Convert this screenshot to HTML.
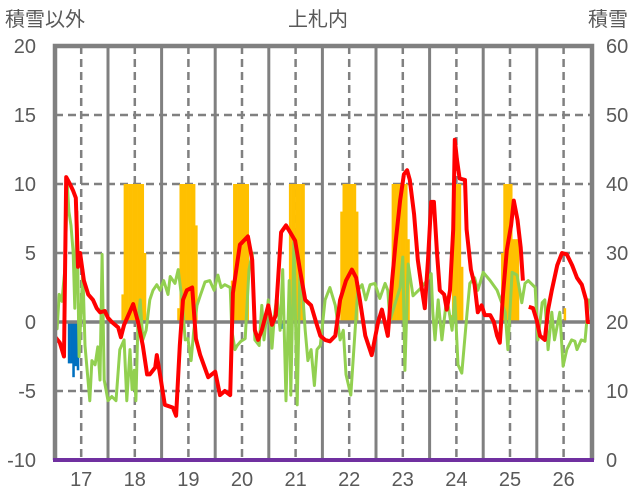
<!DOCTYPE html>
<html><head><meta charset="utf-8"><style>
html,body{margin:0;padding:0;background:#fff;}
svg{display:block;font-family:"Liberation Sans","Noto Sans CJK JP",sans-serif;}
</style></head><body>
<svg id="chart" width="636" height="501" viewBox="0 0 636 501" xmlns="http://www.w3.org/2000/svg">
<g id="grid"></g>
<g id="bars"></g>
<g id="lines"></g>
<g id="frame"></g>
<g id="labels" fill="#595959" font-size="20"></g>
<text x="5" y="26" font-size="20" fill="#595959">積雪以外</text>
<text x="318" y="26" font-size="20" fill="#595959" text-anchor="middle">上札内</text>
<text x="588" y="26" font-size="20" fill="#595959">積雪</text>
</svg>
<script>
const years = [17,18,19,20,21,22,23,24,25,26];
const leftTicks = [20,15,10,5,0,-5,-10];
const rightTicks = [60,50,40,30,20,10,0];
const redT = [17.0,17.10,17.18,17.22,17.29,17.35,17.40,17.44,17.48,17.55,17.63,17.72,17.79,17.85,17.94,18.0,18.07,18.19,18.24,18.30,18.37,18.47,18.56,18.65,18.73,18.78,18.88,18.91,18.97,19.06,19.21,19.27,19.34,19.40,19.47,19.57,19.64,19.72,19.87,20.0,20.09,20.18,20.28,20.33,20.46,20.61,20.69,20.74,20.80,20.87,20.99,21.06,21.13,21.23,21.32,21.40,21.49,21.58,21.68,21.79,21.88,21.96,22.05,22.14,22.24,22.33,22.44,22.55,22.63,22.70,22.80,22.92,23.04,23.11,23.22,23.30,23.37,23.45,23.52,23.58,23.63,23.71,23.78,23.86,23.91,23.97,24.03,24.08,24.14,24.19,24.27,24.32,24.38,24.44,24.47,24.51,24.56,24.66,24.69,24.77,24.84,24.90,24.97,25.03,25.13,25.20,25.26,25.31,25.37,25.44,25.52,25.57,25.64,25.70,25.74,25.80,25.85,25.93,26.0,26.06,26.15,26.21,26.28,26.38,26.47,26.56,26.66,26.75,26.84,26.92,26.95,27.0];
const redV = [-1,-1.5,-2.5,10.5,10,9.5,9,4,5,3,2,1.6,1,0.7,0.8,0.3,0,-0.4,-1.1,-0.2,0.4,1.3,0,-1.7,-3.8,-3.8,-3.3,-2.4,-3.8,-6,-6.2,-6.8,-1.7,1.6,2.3,2.5,-1.2,-2.4,-4,-3.6,-5.3,-5,-5.3,2.1,5.6,6.2,4.5,-0.6,-1.3,-0.6,1.2,-0.2,0.5,6.5,7,6.5,5.9,3.8,1.6,1.2,0,-1,-1.3,-1.4,-1,1.6,3,3.8,3.2,1.6,-1,-2.4,0,0.9,-1,3,5.9,8.8,10.7,11,10.3,7.8,4.5,2.3,1,4.5,8.7,8.7,4.9,2.3,2,0.9,2.3,6.7,13.2,11.8,10.4,10.3,6.7,3.8,2.7,0.7,1.2,0.5,0.5,0,-1,-1.5,2,5.2,7,8.8,7.4,5.4,3,null,1.1,1,0.1,-1,-1.3,0.9,2.3,4.1,5,4.9,4.1,3.2,2.7,1.6,0,0];
const greenT = [17.0,17.05,17.09,17.14,17.20,17.24,17.27,17.31,17.35,17.38,17.42,17.46,17.53,17.57,17.66,17.70,17.76,17.81,17.85,17.89,17.93,18.0,18.07,18.15,18.22,18.30,18.35,18.41,18.45,18.49,18.52,18.56,18.60,18.65,18.71,18.78,18.84,18.91,18.97,19.04,19.12,19.16,19.25,19.31,19.38,19.44,19.49,19.55,19.60,19.66,19.72,19.81,19.90,19.98,20.05,20.11,20.18,20.28,20.31,20.37,20.41,20.48,20.56,20.63,20.69,20.74,20.82,20.87,20.91,20.99,21.06,21.10,21.15,21.21,21.26,21.32,21.38,21.41,21.47,21.53,21.58,21.64,21.68,21.73,21.79,21.85,21.90,21.96,22.05,22.14,22.24,22.33,22.39,22.44,22.53,22.61,22.66,22.74,22.81,22.89,22.98,23.07,23.17,23.22,23.26,23.45,23.50,23.54,23.60,23.69,23.82,23.95,24.03,24.06,24.10,24.16,24.23,24.32,24.42,24.47,24.53,24.60,24.70,24.75,24.84,24.90,25.0,25.13,25.26,25.41,25.46,25.54,25.63,25.72,25.78,25.84,25.97,26.02,26.10,26.15,26.21,26.28,26.33,26.43,26.49,26.56,26.65,26.71,26.75,26.83,26.90,26.97];
const greenV = [1.6,-0.5,2,1.5,4,10,8,7,5,1,8,-2.5,3.8,-1.7,-5.7,-2.8,-3.1,-1.8,-4.2,4.9,-4.2,-5.7,-5.4,-5.7,-2,-1.3,-5.7,-2,-4.9,-3.5,-5.7,0.1,1.6,-1.3,-0.6,1.6,2.3,2.7,2.3,3,2,3.3,2.8,3.8,1.6,-1.3,-1.2,-2.8,-0.6,1.2,1.9,2.9,3,2.3,3.4,2.5,2.7,2.5,-0.6,-2,-1.7,-1.4,-1.2,3.8,5,-1.3,-1.7,1.2,-1.3,1.6,-1.9,0.3,1.9,-0.6,3.8,-5.7,3,-5.3,5.9,-6,3.8,1.6,-0.6,-2.8,-2,-4.6,-2,-1.7,1.6,2.5,1.2,-1.3,-0.6,-3.8,-5.3,-0.6,2.3,2.7,1.6,2.7,2.8,1.7,2.8,2.3,0.1,2.5,4.7,-3.5,4.2,1.9,2.4,3,3.5,0.7,-1.3,1.6,-1.3,1.8,-0.6,1.8,-3.1,-3.7,0.7,2.8,3.2,2.3,3.6,3,2.3,0.7,-2,3.6,3.4,1.4,2.8,3,2.5,-1.3,1.4,1.6,-2,0.7,-1.3,0.7,-3.2,-2,-1.3,-1.4,-2,-1.3,-1.4,1.7];
const snowIdx = [30,31,32,33,34,35,36,37,38,39,40,55,56,57,58,59,60,61,62,63,79,80,81,82,83,84,85,86,105,106,107,108,109,110,111,128,129,130,131,132,133,134,135,151,152,153,154,155,156,157,158,177,178,179,180,181,182,200,201,202,203,204,205,206,207,228];
const snowV = [24,40,40,40,40,40,40,40,40,40,30,22,40,40,40,40,40,40,40,34,26,40,40,40,40,40,40,40,40,40,40,40,40,40,40,36,40,40,40,40,40,40,36,40,40,40,40,40,40,40,32,21,40,40,40,40,28,30,40,40,40,40,32,32,32,22];
const blueIdx = [6,7,8,9,10,101];
const blueV = [-3,-3,-4,-3.2,-3.5,-0.5];

const NS = "http://www.w3.org/2000/svg";
const X = t => 54.4 + (t - 17) * 53.6;
const Y = v => 322 - v * 13.8;
const R = v => 460 - v * 6.9;
const IDX = i => 17 + i / 24;
const HW = 53.6 / 24;
function mk(tag, parent, attrs) {
  const e = document.createElementNS(NS, tag);
  for (const k in attrs) e.setAttribute(k, attrs[k]);
  parent.appendChild(e);
  return e;
}
const grid = document.getElementById('grid');
const bars = document.getElementById('bars');
const lines = document.getElementById('lines');
const frame = document.getElementById('frame');
const labels = document.getElementById('labels');

leftTicks.forEach(v => {
  if (v === 20 || v === 0 || v === -10) return;
  const l = mk('line', grid, {x1: 55, x2: 592, y1: Y(v), y2: Y(v), stroke: '#808080', 'stroke-width': 2.5, 'stroke-dasharray': '8 5'});
  
  
});
years.forEach(y => {
  const d = mk('line', grid, {x1: X(y + 0.5), x2: X(y + 0.5), y1: 46, y2: 460, stroke: '#808080', 'stroke-width': 2.5, 'stroke-dasharray': '8 5'});
  
  
  if (y > 17) {
    const s = mk('line', grid, {x1: X(y), x2: X(y), y1: 46, y2: 460, stroke: '#808080', 'stroke-width': 3});
    
    
  }
});
snowIdx.forEach((i, k) => {
  const v = snowV[k];
  const r = mk('rect', bars, {x: X(IDX(i)), y: R(v), width: HW + 0.3, height: R(20) - R(v), fill: '#FFC000'});
  
  
});
blueIdx.forEach((i, k) => {
  const v = blueV[k];
  const r = mk('rect', bars, {x: X(IDX(i)), y: Y(0), width: HW + 0.3, height: Y(v) - Y(0), fill: '#0070C0'});
  
  
});
const z = mk('line', lines, {x1: 55, x2: 592, y1: Y(0), y2: Y(0), stroke: '#808080', 'stroke-width': 3.5});


function pathOf(T, V) {
  let d = '', pen = false;
  T.forEach((t, i) => {
    const v = V[i];
    if (v === null) { pen = false; return; }
    d += (pen ? 'L' : 'M') + X(t).toFixed(1) + ' ' + Y(v).toFixed(1) + ' ';
    pen = true;
  });
  return d;
}
const g = mk('path', lines, {d: pathOf(greenT, greenV), fill: 'none', stroke: '#92D050', 'stroke-width': 3, 'stroke-linejoin': 'round'});


const rd = mk('path', lines, {d: pathOf(redT, redV), fill: 'none', stroke: '#FF0000', 'stroke-width': 4, 'stroke-linejoin': 'round'});



const fr = mk('path', frame, {d: 'M55 460 L55 46 L592 46 L592 460', fill: 'none', stroke: '#808080', 'stroke-width': 4.5});


const bt = mk('line', frame, {x1: 53, x2: 594, y1: 460, y2: 460, stroke: '#7030A0', 'stroke-width': 4});



leftTicks.forEach(v => {
  const t = mk('text', labels, {x: 36, y: Y(v) + 7, 'text-anchor': 'end'});
  t.textContent = v;
  
  
});
rightTicks.forEach(v => {
  const t = mk('text', labels, {x: 606, y: R(v) + 7});
  t.textContent = v;
  
  
});
years.forEach(y => {
  const t = mk('text', labels, {x: X(y + 0.5), y: 486, 'text-anchor': 'middle'});
  t.textContent = y;
  
  
});
</script>
</body></html>
